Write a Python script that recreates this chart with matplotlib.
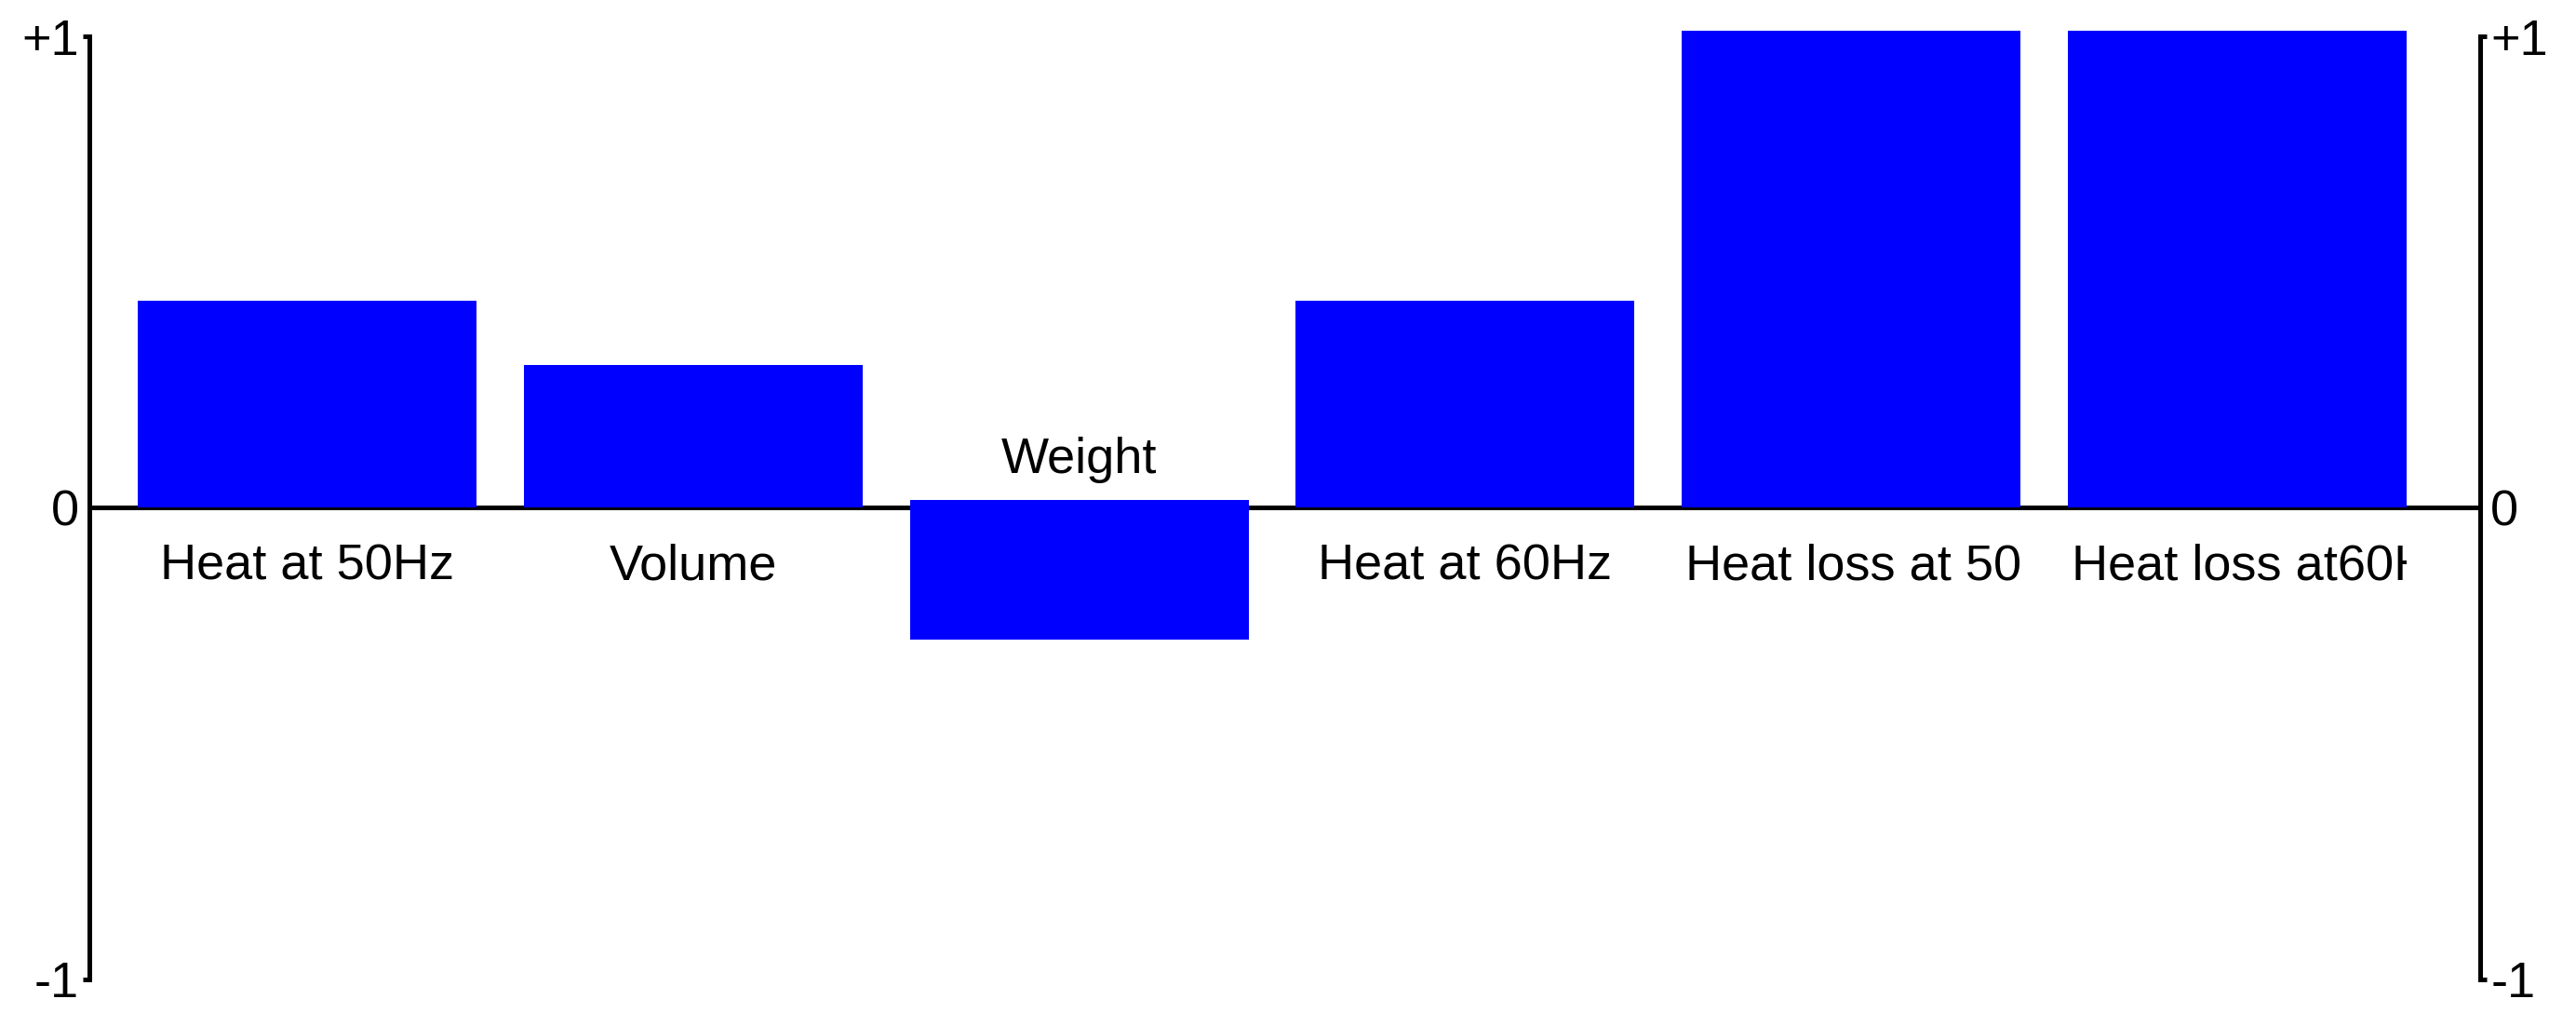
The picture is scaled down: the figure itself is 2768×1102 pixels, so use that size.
import matplotlib.pyplot as plt
from matplotlib.transforms import Bbox, TransformedBbox

# data
labels = ['Heat at 50Hz', 'Volume', 'Weight', 'Heat at 60Hz',
          'Heat loss at 50Hz', 'Heat loss at60Hz']
values = [0.44, 0.304, -0.296, 0.44, 1.012, 1.012]
bottoms = [0, 0, 0.016, 0, 0, 0]
yticks = [-1, 0, 1]
yticklabels = ['-1', '0', '+1']

plt.rcParams['font.family'] = ['Liberation Sans', 'DejaVu Sans']

fig = plt.figure(figsize=(27.68, 11.02), dpi=100)
ax = fig.add_axes([0.0347, 0.0454, 0.9281, 0.9192])

x = list(range(len(labels)))
bw = 0.8775
ax.bar(x, values, width=bw, bottom=bottoms, color='#0000ff', zorder=3, clip_on=False)
ax.axhline(0, color='black', lw=3.6, zorder=2)

ax.set_xlim(-0.564, 5.629)
ax.set_ylim(-1, 1)
ax.set_xticks([])
ax.set_yticks(yticks)
ax.set_yticklabels(yticklabels)
ax.tick_params(axis='y', which='both', left=True, right=True, labelleft=True, labelright=True,
               direction='out', length=5, width=3.6, pad=3, labelsize=39)
for t in ax.yaxis.get_major_ticks():
    if t.get_loc() == 0:
        t.tick1line.set_visible(False)
        t.tick2line.set_visible(False)
for side in ['top', 'bottom']:
    ax.spines[side].set_visible(False)
for side in ['left', 'right']:
    ax.spines[side].set_linewidth(3.6)

fig.canvas.draw()
renderer = fig.canvas.get_renderer()
for i, (lab, v) in enumerate(zip(labels, values)):
    y = -0.152 if v >= 0 else 0.075
    txt = ax.text(i, y, lab, ha='center', va='baseline', fontsize=39, zorder=4)
    ext = txt.get_window_extent(renderer)
    x0 = ax.transData.transform((i - bw / 2, 0))[0]
    x1 = ax.transData.transform((i + bw / 2, 0))[0]
    if ext.width > (x1 - x0):
        # too wide for the bar: start at the bar's left edge and cut it off
        txt.set_x(i - bw / 2 + 0.01)
        txt.set_ha('left')
        txt.set_clip_box(TransformedBbox(Bbox([[i - bw / 2, -2], [i + bw / 2, 2]]), ax.transData))
        txt.set_clip_on(True)

fig.savefig('out.png', dpi=100, facecolor='white')
